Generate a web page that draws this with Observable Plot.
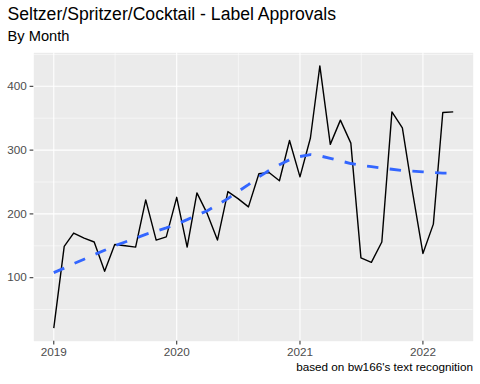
<!DOCTYPE html>
<html>
<head>
<meta charset="utf-8">
<script src="https://cdn.jsdelivr.net/npm/d3@7"></script>
<script src="https://cdn.jsdelivr.net/npm/@observablehq/plot@0.6"></script>
<style>
  html, body { margin: 0; padding: 0; background: #fff; }
  #wrap { position: relative; width: 480px; height: 384px; overflow: hidden;
          font-family: "Liberation Sans", Arial, Helvetica, sans-serif; }
  .t { position: absolute; line-height: 1; white-space: nowrap; color: #000; }
  #title { left: 7.5px; top: 5.8px; font-size: 17.6px; }
  #subtitle { left: 7.5px; top: 29.3px; font-size: 14.67px; }
  #caption { right: 7px; top: 360.8px; font-size: 11.73px; }
  #chart { position: absolute; left: 0; top: 44px; }
</style>
</head>
<body>
<div id="wrap">
  <div class="t" id="title">Seltzer/Spritzer/Cocktail - Label Approvals</div>
  <div class="t" id="subtitle">By Month</div>
  <div id="chart"></div>
  <div class="t" id="caption">based on bw166's text recognition</div>
</div>
<script>
const months = [
  "2019-01","2019-02","2019-03","2019-04","2019-05","2019-06","2019-07","2019-08","2019-09","2019-10","2019-11","2019-12",
  "2020-01","2020-02","2020-03","2020-04","2020-05","2020-06","2020-07","2020-08","2020-09","2020-10","2020-11","2020-12",
  "2021-01","2021-02","2021-03","2021-04","2021-05","2021-06","2021-07","2021-08","2021-09","2021-10","2021-11","2021-12",
  "2022-01","2022-02","2022-03","2022-04"
];
const approvals = [
  21,149,170,162,156,110,152,150,148,222,159,164,
  226,148,233,200,159,235,224,211,263,265,252,315,
  258,319,432,309,347,311,131,124,156,360,335,235,
  138,184,359,360
];
const trend = [
  108,115,122,129,136,143,150,156,162,168,173,178,
  184,191,198,205,214,224,235,246,258,268,277,285,
  290,293,291,287,283,279,276,274,272,270,268,267,
  266,265,264,264
];
const yMajor = [100, 200, 300, 400];
const yMinor = [50, 150, 250, 350, 450];
const xMajorYears = ["2019-01-01", "2020-01-01", "2021-01-01", "2022-01-01"];
const xMinorDates = ["2019-07-02", "2020-07-02", "2021-07-02"];

const parse = s => new Date(s.length === 7 ? s + "-01T00:00:00Z" : s + "T00:00:00Z");
const data = months.map((m, i) => ({date: parse(m), value: approvals[i], trend: trend[i]}));
const xMajor = xMajorYears.map(parse);
const xMinor = xMinorDates.map(parse);

const d0 = data[0].date.getTime(), d1 = data[data.length - 1].date.getTime();
const xd = [new Date(d0 - 0.05 * (d1 - d0)), new Date(d1 + 0.05 * (d1 - d0))];
const vMin = d3.min(approvals), vMax = d3.max(approvals);
const yd = [vMin - 0.05 * (vMax - vMin), vMax + 0.05 * (vMax - vMin)];

const fontSize = 11.73;
const chart = Plot.plot({
  width: 480,
  height: 320,
  marginTop: 8.3,
  marginBottom: 23.3,
  marginLeft: 33.3,
  marginRight: 7.3,
  style: {fontFamily: '"Liberation Sans", Arial, Helvetica, sans-serif', fontSize: fontSize + "px", background: "transparent"},
  x: {type: "utc", domain: xd},
  y: {domain: yd},
  marks: [
    Plot.frame({fill: "#EBEBEB", stroke: null}),
    Plot.ruleY(yMinor, {stroke: "#fff", strokeWidth: 0.53}),
    Plot.ruleX(xMinor, {stroke: "#fff", strokeWidth: 0.53}),
    Plot.ruleY(yMajor, {stroke: "#fff", strokeWidth: 1.07}),
    Plot.ruleX(xMajor, {stroke: "#fff", strokeWidth: 1.07}),
    Plot.line(data, {x: "date", y: "value", stroke: "#000", strokeWidth: 1.4, strokeLinecap: "butt", strokeLinejoin: "round"}),
    Plot.line(data, {x: "date", y: "trend", stroke: "#3366FF", strokeWidth: 2.85, strokeDasharray: "11.4,11.4", strokeLinecap: "butt"}),
    Plot.axisY(yMajor, {tickSize: 3.7, tickPadding: 3.3, label: null, fontSize: fontSize, stroke: "#333333", fill: "#4D4D4D", strokeWidth: 1.07}),
    Plot.axisX(xMajor, {tickSize: 3.7, tickPadding: 3, label: null, fontSize: fontSize, tickFormat: d3.utcFormat("%Y"), stroke: "#333333", fill: "#4D4D4D", strokeWidth: 1.07})
  ]
});
document.getElementById("chart").appendChild(chart);
</script>
</body>
</html>
